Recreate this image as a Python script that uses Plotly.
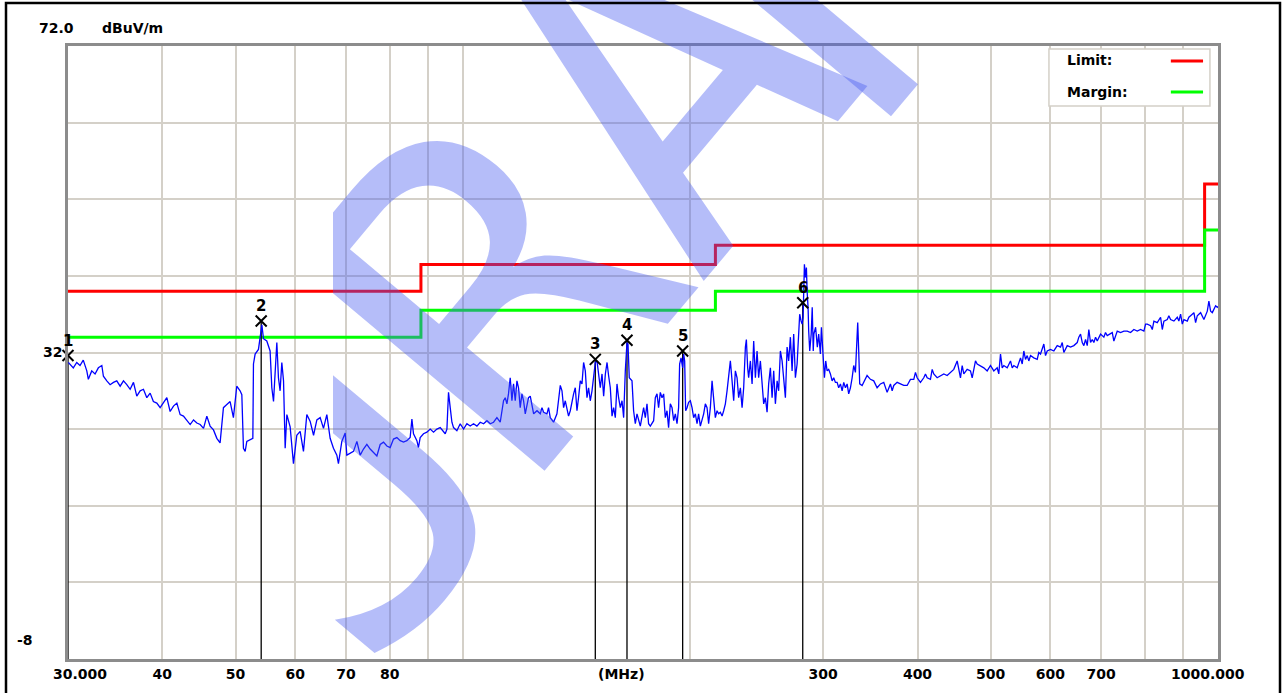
import math
import plotly.graph_objects as go

# ---------------- data ----------------
freq = [
    30.03, 30.49, 30.81, 31.12, 31.43, 31.77, 31.92, 32.25, 32.58, 32.91, 33.26, 33.42, 33.77, 34.11,
    34.46, 34.81, 35.17, 35.53, 35.89, 36.26, 36.63, 37.00, 37.38, 37.76, 38.15, 38.54, 38.92, 39.33,
    39.73, 40.14, 40.55, 40.96, 41.38, 41.81, 42.23, 42.66, 43.10, 43.54, 43.99, 44.44, 44.89, 45.35,
    45.81, 46.27, 46.75, 47.23, 47.70, 47.95, 48.19, 48.69, 49.18, 49.68, 50.19, 50.70, 50.97, 51.22,
    51.49, 51.75, 52.28, 52.71, 52.81, 53.08, 53.62, 53.90, 54.18, 54.45, 55.00, 55.56, 55.85, 56.14,
    56.43, 56.71, 56.99, 57.28, 57.58, 57.88, 58.17, 58.47, 59.06, 59.66, 60.27, 60.89, 61.51, 62.14,
    62.78, 63.43, 64.07, 64.72, 65.38, 66.05, 66.72, 67.40, 68.10, 68.43, 69.14, 69.85, 70.21, 70.92,
    71.65, 72.39, 73.12,
    73.86, 74.62, 75.38, 76.54, 76.94, 77.72, 78.51, 79.32, 80.12, 80.94, 81.78, 82.61, 83.45, 84.31,
    85.16, 85.61, 86.03, 86.92, 87.34, 87.80, 88.69, 89.61, 90.53, 91.45, 92.39, 93.33, 94.28, 94.77,
    95.26, 95.72, 96.22, 96.72, 97.20, 98.20, 99.20, 100.21, 101.24, 102.27, 103.31, 104.38, 105.44,
    106.52, 107.62, 108.71, 109.81, 110.94, 112.07, 112.66, 113.21, 113.80, 114.38, 114.93, 115.54,
    116.14, 116.71, 117.32, 117.93, 118.50, 119.12, 119.74, 120.34, 120.96, 121.58, 122.17, 122.82,
    123.46, 124.09, 125.37, 126.62, 127.28, 127.93, 129.23, 129.86, 130.54, 131.87, 133.23, 134.59,
    135.29, 135.96, 136.66, 137.36, 138.03, 138.76, 139.48, 140.17, 140.89, 141.62, 142.30, 143.05,
    143.80, 144.51, 145.26, 146.01, 146.72, 147.49, 148.26, 149.00, 149.76, 150.53, 151.26, 152.06,
    152.86, 153.62, 154.42, 155.22, 155.95, 156.77, 157.59, 158.37, 159.18, 160.00, 160.78, 161.63,
    162.47, 163.28, 164.11, 164.95, 165.45, 166.11, 167.49, 168.31, 169.19, 170.06, 171.79,
    173.54, 174.43, 175.33, 176.18, 177.11, 178.91, 179.83, 180.76, 181.64, 182.59, 183.54, 184.45,
    185.40, 186.36, 187.26, 188.25, 189.24, 190.19, 191.15, 192.14, 193.07, 193.67, 194.51, 195.47,
    196.07, 196.67, 197.26, 198.09, 199.05, 200.10, 201.14, 202.13, 203.18, 204.23, 205.22, 206.30,
    207.38, 208.40, 209.47, 210.56, 211.58, 212.69, 213.80, 214.85, 215.96, 217.08, 218.13, 219.28,
    220.43, 221.51, 222.66, 223.80, 224.89, 226.07, 227.25, 228.37, 229.55, 230.74, 231.86, 233.08,
    234.30, 235.44, 236.67, 237.38, 238.32, 239.04, 240.30, 241.56, 242.74, 244.00, 245.25, 246.44,
    247.74, 249.04, 250.25, 251.55, 252.85, 254.08, 255.41, 256.75, 258.01, 259.34, 260.72, 261.94,
    263.32, 264.70, 266.00, 267.38, 268.76, 270.06, 271.48, 272.90, 274.23, 275.66, 277.09, 278.43,
    279.29, 280.50, 281.36, 282.22, 282.74, 283.34, 284.20, 285.07, 285.67, 286.53, 287.06, 287.98,
    289.26, 290.17, 291.08, 291.63, 293.18, 294.72, 295.94, 297.50, 298.42, 299.97, 301.17, 302.36,
    303.65, 305.11, 306.72, 308.32, 309.83, 311.44, 313.05, 314.56, 316.22, 317.88, 319.44, 321.09,
    322.75, 324.31, 326.02, 327.72, 329.32, 331.03, 332.04, 333.35, 334.36, 335.38, 337.84, 339.49,
    343.00, 346.52, 350.05, 353.67, 357.26, 360.89, 364.63, 368.33, 370.26, 372.07, 375.93, 379.74,
    383.60, 387.57, 391.50, 395.48, 397.53, 399.57, 403.63, 407.73, 409.84, 411.95, 416.13, 418.31,
    420.36, 424.72, 429.02,
    433.40, 437.87, 442.31, 446.81, 451.44, 453.63, 456.02, 458.40, 460.65, 465.43, 470.14, 472.60,
    474.92, 477.38, 479.84, 484.70, 489.64, 494.70, 499.72, 504.80, 510.03, 512.51, 515.20, 517.90,
    520.43, 525.83, 531.16, 533.94, 536.55, 542.11, 547.61, 550.48, 553.17, 556.04, 558.91, 561.62,
    564.58, 570.31, 576.22, 579.02, 582.06, 587.99, 591.02, 594.07, 600.10, 606.20, 612.48, 618.69,
    621.92, 624.97, 631.45, 637.86, 644.34, 651.02, 654.18, 657.62, 661.06, 664.30, 667.74, 671.18,
    674.44, 677.98, 681.53, 684.87, 688.42, 691.97, 698.98, 706.09, 709.64, 713.40, 720.64, 724.41,
    727.96, 735.51, 742.96, 750.51, 758.29, 765.98, 773.76, 781.78, 789.70, 797.73, 801.86, 806.00,
    814.17, 818.43, 822.44, 830.96, 839.39, 843.78, 847.92, 856.70, 860.86, 865.39, 874.18, 883.24,
    887.53, 892.20, 896.87, 901.26, 910.60, 915.02, 919.83, 929.18, 933.99, 938.81, 943.37, 948.33,
    957.97, 962.93, 967.90, 972.59, 977.71, 982.82, 987.64, 992.76, 997.88, 1000.0,
]
level = [
    30.7, 30.0, 30.7, 30.3, 31.0, 29.6, 28.5, 29.6, 29.2, 30.0, 30.3, 28.9, 28.3, 27.8,
    28.1, 28.3, 27.6, 28.3, 27.8, 27.2, 28.1, 26.3, 27.0, 27.2, 26.1, 26.7, 25.6, 25.4,
    24.8, 25.4, 26.1, 24.3, 25.0, 25.4, 23.9, 23.7, 23.2, 22.6, 23.2, 22.8, 22.6, 22.1,
    23.7, 22.4, 21.9, 20.8, 20.2, 23.0, 24.8, 25.2, 25.6, 23.5, 27.6, 27.0, 26.5, 19.5,
    19.1, 20.4, 20.6, 20.8, 30.5, 31.8, 32.4, 34.0, 35.6, 33.8, 33.5, 32.2, 27.4, 25.6,
    30.0, 33.3, 28.7, 27.0, 30.7, 28.3, 19.5, 23.9, 22.3, 17.5, 21.2, 21.7, 19.1, 23.9,
    23.0, 21.2, 23.2, 23.5, 22.1, 23.9, 20.8, 19.5, 18.6, 17.5, 20.4, 21.5, 18.6, 18.8,
    19.1, 20.4, 18.6,
    19.4, 20.0, 19.4, 18.7, 18.5, 20.0, 20.3, 19.8, 19.6, 20.7, 20.9, 20.5, 20.3, 20.5,
    20.9, 23.3, 21.4, 20.5, 19.6, 20.9, 21.4, 21.6, 22.0, 21.6, 22.0, 22.2, 21.6, 21.4,
    22.0, 26.8, 24.8, 22.9, 22.2, 21.8, 22.7, 22.0, 22.7, 22.4, 22.7, 22.4, 22.9,
    22.7, 23.1, 22.7, 22.9, 23.5, 22.9, 24.4, 25.7, 26.1, 25.3, 26.6, 28.7,
    25.7, 27.9, 25.7, 28.3, 27.4, 24.8, 26.6, 25.7, 24.0, 25.3, 26.1, 26.3,
    24.8, 24.0, 24.4, 24.0, 24.8, 24.2, 24.0, 24.8, 23.5, 22.9, 24.0, 27.7,
    27.0, 24.8, 25.7, 24.8, 23.7, 24.4, 25.7, 26.6, 27.4, 24.4, 26.1, 28.3,
    27.9, 30.7, 29.6, 26.1, 27.4, 25.7, 27.0, 29.2, 30.7, 30.9, 29.4, 27.4,
    29.2, 26.3, 29.2, 30.7, 29.0, 27.4, 23.7, 24.8, 23.5, 27.9, 26.1, 24.8,
    25.7, 23.5, 29.6, 33.3, 33.1, 28.7, 28.3, 24.4, 22.7, 24.0, 22.4,
    24.8, 23.5, 25.3, 22.7, 22.4, 23.1, 26.1, 26.6, 24.8, 26.8, 26.1, 26.6,
    23.5, 24.4, 22.2, 25.3, 24.8, 23.1, 24.0, 22.7, 24.8, 30.5, 31.3, 30.0,
    31.8, 30.9, 24.4, 24.8, 25.5, 25.7, 24.8, 23.5, 24.0, 22.7, 24.0, 22.4,
    23.1, 24.0, 25.3, 24.8, 22.7, 24.8, 28.3, 25.3, 23.5, 24.4, 24.0, 24.2,
    23.7, 24.4, 25.3, 27.0, 28.7, 30.9, 28.3, 25.7, 29.6, 28.7, 26.1, 27.4,
    24.8, 27.4, 32.7, 33.7, 30.0, 28.7, 30.9, 27.9, 33.5, 28.7, 32.2, 28.7,
    30.9, 28.3, 25.3, 26.1, 24.2, 27.9, 30.0, 26.1, 29.6, 25.3, 28.3, 27.0,
    32.2, 30.9, 28.7, 26.1, 32.7, 30.9, 34.0, 29.6, 34.4, 28.7, 30.5, 35.7,
    37.0, 36.1, 35.7, 36.6, 40.5, 43.5, 41.8, 43.1, 40.0, 37.9, 34.8, 32.2,
    34.4, 37.9, 32.2, 34.4, 35.3, 32.7, 34.4, 31.8, 35.3, 32.2, 28.7, 30.9,
    29.6, 29.8, 29.2, 28.3, 28.7, 28.1, 28.1, 27.4, 27.9, 27.0, 28.1, 27.4,
    27.9, 26.6, 27.4, 28.7, 30.3, 29.4, 32.7, 35.9, 32.2, 27.9, 27.7, 28.1,
    29.0, 28.5, 28.3, 27.4, 27.9, 28.1, 26.8, 27.9, 27.0, 27.7, 28.1, 27.9,
    27.7, 27.7, 28.5, 28.5, 29.4, 28.7, 28.1, 28.7, 29.2, 28.7, 28.5, 29.8,
    29.2, 28.7, 29.0,
    29.2, 29.0, 29.4, 29.8, 30.9, 29.6, 28.7, 30.3, 29.2, 29.8, 29.6, 28.7,
    30.0, 30.9, 30.5, 30.3, 30.0, 29.6, 30.3, 29.6, 30.0, 29.2, 31.8, 30.0,
    30.3, 30.0, 30.9, 30.0, 30.3, 30.0, 31.3, 30.5, 32.2, 31.1, 31.6, 30.9,
    31.6, 31.3, 31.1, 32.0, 31.8, 33.1, 31.6, 32.2, 32.4, 32.2, 32.9, 32.7,
    33.3, 32.0, 32.9, 32.7, 32.9, 33.3, 34.0, 34.4, 33.3, 32.9, 33.7, 32.9,
    35.0, 33.3, 33.7, 33.3, 34.0, 33.5, 34.4, 34.0, 34.6, 34.2, 34.4, 34.6,
    33.5, 34.8, 34.6, 34.8, 34.8, 34.6, 35.0, 34.8, 35.0, 34.8, 35.7, 35.7,
    35.5, 35.0, 36.1, 35.9, 36.6, 35.0, 36.1, 36.3, 36.8, 36.3, 36.1, 36.6,
    36.1, 37.0, 35.7, 36.3, 36.1, 36.6, 36.8, 37.2, 35.9, 36.8, 37.0, 37.2,
    36.3, 37.0, 37.4, 38.7, 37.4, 37.2, 37.7, 38.1, 37.9, 38.0,
]

limit_freq = [30, 88, 216, 960, 1000]
limit_level = [40, 43.5, 46, 54, 54]
margin_level = [34, 37.5, 40, 48, 48]

marker_no = ["1", "2", "3", "4", "5", "6"]
marker_freq = [30.0, 54.07, 149.76, 164.95, 195.47, 281.9]
marker_level = [31.6, 36.1, 31.1, 33.6, 32.2, 38.5]
floor_level = -8

x_tickvals = [30, 40, 50, 60, 70, 80, 90, 100, 200, 300, 400, 500, 600, 700, 800, 900, 1000]
x_ticktext = ["", "40", "50", "60", "70", "80", "", "", "", "300", "400", "500", "600", "700", "", "", ""]
y_tickvals = [-8, 2, 12, 22, 32, 42, 52, 62, 72]
y_ticktext = ["", "", "", "", "32", "", "", "", ""]

watermark_parts = ["J", "RA", "I"]

# ---------------- figure ----------------
GRID = "#d4d0c8"
FONT = "DejaVu Sans"
W, H = 1283, 693
PL, PR, PT, PB = 68, 1218, 46, 659   # plot frame in pixels
CLIP_X = 333                          # watermark is cropped at this pixel column

fig = go.Figure()

fig.add_trace(go.Scatter(x=limit_freq, y=limit_level, mode="lines", line_shape="hv",
                         line=dict(color="#ff0000", width=3), name="Limit:", showlegend=False))
fig.add_trace(go.Scatter(x=limit_freq, y=margin_level, mode="lines", line_shape="hv",
                         line=dict(color="#00ff00", width=3), name="Margin:", showlegend=False))

vx, vy = [], []
for f, l in zip(marker_freq, marker_level):
    vx += [f, f, None]
    vy += [l, floor_level, None]
fig.add_trace(go.Scatter(x=vx, y=vy, mode="lines", line=dict(color="black", width=1.3),
                         showlegend=False, hoverinfo="skip"))

fig.add_trace(go.Scatter(x=freq, y=level, mode="lines", line=dict(color="#0000ff", width=1.3),
                         showlegend=False))

fig.add_trace(go.Scatter(x=marker_freq, y=marker_level, mode="markers",
                         marker=dict(symbol="x-thin", size=11, line=dict(width=2, color="black")),
                         showlegend=False, cliponaxis=False))

# watermark (text on invisible bars so that it is cropped like the original)
WM_COLOR = "rgba(70,90,240,0.40)"
mono = dict(family="DejaVu Sans Mono, monospace", size=450, color=WM_COLOR)
sans = dict(family="Liberation Sans, Arial, sans-serif", size=450, color=WM_COLOR)
wm_fonts = [mono, mono, sans]
wm_centers = [(337, 476), (579, 187), (785, 0)]
for txt, (cx, cy), fnt in zip(watermark_parts, wm_centers, wm_fonts):
    fig.add_trace(go.Bar(x=[cx], y=[600], base=[cy - 300], width=[600], text=[txt],
                         textposition="inside", insidetextanchor="middle", textangle=-50,
                         constraintext="none", textfont=fnt, insidetextfont=fnt,
                         marker=dict(color="rgba(0,0,0,0)", line=dict(width=0)),
                         xaxis="x2", yaxis="y2", cliponaxis=True, showlegend=False,
                         hoverinfo="skip"))

tf = dict(family=FONT, size=14, color="black", weight="bold")
fig.update_layout(
    xaxis=dict(type="log", range=[1.47712, 3.0], domain=[PL / W, PR / W], tickmode="array",
               tickvals=x_tickvals, ticktext=x_ticktext, showgrid=True, gridcolor=GRID,
               gridwidth=1.5, showline=True, mirror=True, linecolor="#8c8c8c", linewidth=2.5,
               ticks="", zeroline=False, tickfont=tf, anchor="y"),
    yaxis=dict(range=[-8, 72], domain=[1 - PB / H, 1 - PT / H], tickmode="array",
               tickvals=y_tickvals, ticktext=y_ticktext, showgrid=True, gridcolor=GRID,
               gridwidth=1.5, showline=True, mirror=True, linecolor="#8c8c8c", linewidth=2.5,
               ticks="", zeroline=False, tickfont=tf, anchor="x"),
    xaxis2=dict(domain=[CLIP_X / W, 1], range=[CLIP_X, W], visible=False, anchor="y2",
                fixedrange=True),
    yaxis2=dict(domain=[0, 1], range=[H, 0], visible=False, anchor="x2", fixedrange=True),
    barmode="overlay",
)

annots = [
    dict(text="72.0", x=0, y=1, xanchor="left", yanchor="middle", xshift=-31, yshift=18),
    dict(text="dBuV/m", x=0, y=1, xanchor="left", yanchor="middle", xshift=32, yshift=18),
    dict(text="-8", x=0, y=0, xanchor="right", yanchor="middle", xshift=-33, yshift=19),
    dict(text="30.000", x=0, y=0, xanchor="center", yanchor="middle", xshift=12, yshift=-15),
    dict(text="1000.000", x=1, y=0, xanchor="center", yanchor="middle", xshift=-10, yshift=-15),
    dict(text="(MHz)", x=0.4817, y=0, xanchor="center", yanchor="middle", yshift=-15),
    dict(text="Limit:", x=0.867, y=0.977, xanchor="left", yanchor="middle"),
    dict(text="Margin:", x=0.867, y=0.925, xanchor="left", yanchor="middle"),
]
for a in annots:
    a.update(xref="x domain", yref="y domain", showarrow=False, font=tf)

# marker numbers (drawn as annotations so they sit above the axis frame)
for n, f, l in zip(marker_no, marker_freq, marker_level):
    annots.append(dict(text=n, xref="x", yref="y", x=math.log10(f), y=l, yshift=15,
                       xanchor="center", yanchor="middle", showarrow=False,
                       font=dict(family=FONT, size=15, color="black", weight="bold")))

shapes = [
    dict(type="rect", xref="x domain", yref="y domain", x0=0.853, x1=0.993, y0=0.902, y1=0.995,
         fillcolor="white", line=dict(color=GRID, width=1.5), layer="above"),
    dict(type="line", xref="x domain", yref="y domain", x0=0.959, x1=0.987, y0=0.9755, y1=0.9755,
         line=dict(color="#ff0000", width=3), layer="above"),
    dict(type="line", xref="x domain", yref="y domain", x0=0.959, x1=0.987, y0=0.925, y1=0.925,
         line=dict(color="#00ff00", width=3), layer="above"),
    dict(type="rect", xref="paper", yref="paper", x0=6 / W, x1=1280 / W, y0=-0.1, y1=1 - 3 / H,
         line=dict(color="black", width=2.5), fillcolor="rgba(0,0,0,0)", layer="above"),
]

fig.update_layout(width=W, height=H, margin=dict(l=0, r=0, t=0, b=0, pad=0),
                  paper_bgcolor="white", plot_bgcolor="rgba(0,0,0,0)", showlegend=False,
                  annotations=annots, shapes=shapes)

fig.write_html("out.html", config={"displayModeBar": False},
               post_script="document.body.style.margin='0';document.body.style.overflow='hidden';")
